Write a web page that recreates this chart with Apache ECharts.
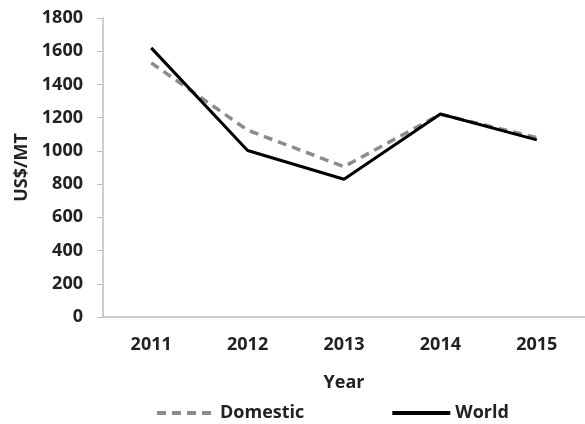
<!DOCTYPE html>
<html>
<head>
<meta charset="utf-8">
<script src="https://cdn.jsdelivr.net/npm/echarts@6/dist/echarts.min.js"></script>
<style>
  html, body { margin: 0; padding: 0; background: #fff; }
  #chart { width: 585px; height: 424px; }
</style>
</head>
<body>
<div id="chart"></div>
<script>
  var years = ["2011", "2012", "2013", "2014", "2015"];
  var domestic = [1530, 1125, 905, 1220, 1080];
  var world = [1620, 1002, 829, 1222, 1066];

  var myChart = echarts.init(document.getElementById("chart"));
  var font = "'Open Sans', sans-serif";

  var option = {
    animation: false,
    grid: {
      left: 103,
      top: 18,
      right: -8,
      bottom: 107
    },
    legend: {
      bottom: -3,
      left: 150,
      itemWidth: 58,
      itemHeight: 14,
      itemGap: 86,
      itemStyle: { opacity: 0 },
      lineStyle: { width: 4 },
      textStyle: {
        fontFamily: font,
        fontSize: 18,
        fontWeight: "bold",
        color: "#222"
      },
      data: ["Domestic", "World"]
    },
    xAxis: {
      type: "category",
      data: years,
      name: "Year",
      nameLocation: "middle",
      nameGap: 57,
      nameTextStyle: {
        fontFamily: font,
        fontSize: 18,
        fontWeight: "bold",
        color: "#222"
      },
      axisLine: { lineStyle: { color: "#bdbdbd", width: 1.5 } },
      axisTick: { show: false },
      axisLabel: {
        margin: 19,
        fontFamily: font,
        fontSize: 18,
        fontWeight: "bold",
        color: "#222"
      }
    },
    yAxis: {
      type: "value",
      min: 0,
      max: 1800,
      interval: 200,
      name: "US$/MT",
      nameLocation: "middle",
      nameGap: 72,
      nameRotate: 90,
      nameTextStyle: {
        fontFamily: font,
        fontSize: 18,
        fontWeight: "bold",
        color: "#222"
      },
      axisLine: { show: true, lineStyle: { color: "#bdbdbd", width: 1.5 } },
      axisTick: { show: true, length: 6, lineStyle: { color: "#bdbdbd" } },
      splitLine: { show: false },
      axisLabel: {
        margin: 20,
        formatter: function (v) { return String(v); },
        fontFamily: font,
        fontSize: 18,
        fontWeight: "bold",
        color: "#222"
      }
    },
    series: [
      {
        name: "Domestic",
        type: "line",
        data: domestic,
        symbol: "none",
        lineStyle: { color: "#8c8c8c", width: 3.5, type: [9, 6] },
        itemStyle: { color: "#8c8c8c" }
      },
      {
        name: "World",
        type: "line",
        data: world,
        symbol: "none",
        lineStyle: { color: "#000", width: 3 },
        itemStyle: { color: "#000" }
      }
    ]
  };

  myChart.setOption(option);
</script>
</body>
</html>
